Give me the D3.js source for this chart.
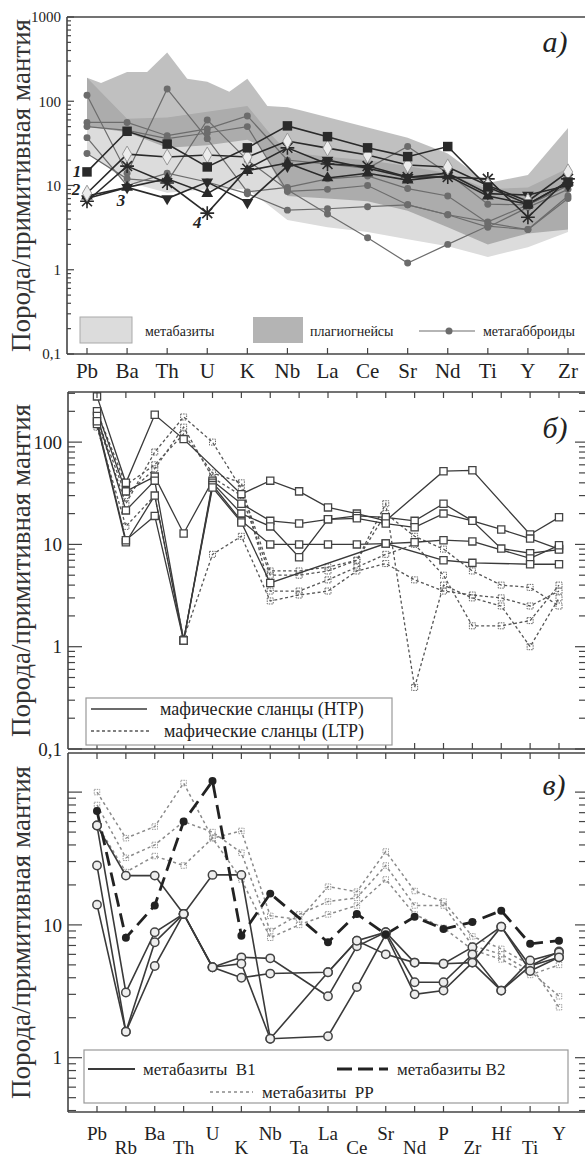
<!DOCTYPE html>
<html>
<head>
<meta charset="utf-8">
<script src="https://cdn.jsdelivr.net/npm/d3@7"></script>
<style>
  body { margin: 0; background: #fff; }
  svg { display: block; }
</style>
</head>
<body>
<script>
// ---------- panel a data ----------
const elemA = ["Pb","Ba","Th","U","K","Nb","La","Ce","Sr","Nd","Ti","Y","Zr"];
const ticksA = [0.1, 1, 10, 100, 1000];

// fields: [element index, value]
const plagUpper = [[0,190],[0.35,165],[1,222],[1.5,222],[2,380],[2.5,185],[3,170],[3.55,130],[4,185],[4.5,88],[5,85],[5.3,79],[8,37],[9,24],[10,10.7],[11,13.3],[12,48]];
const plagLower = [[12,3.0],[11,2.7],[10,2.0],[9,3.2],[8,5],[7,6.5],[6,7],[5,7.5],[4.3,30],[4,35],[3,30],[2,28],[1,43],[0,50]];
const metaUpper = [[0,190],[1,62],[2,64],[3,75],[4,88],[4.5,45],[5,25],[6,22],[7,20],[8,17],[9,14],[10,9],[11,9.5],[12,16]];
const metaLower = [[12,2.8],[11,1.85],[10,1.42],[9,1.9],[8,2.3],[7,2.8],[6,3.2],[5,3.9],[4.5,6],[4,9],[3,9],[2,8.2],[1,11],[0,25]];

const gabbro1 = [118, 14, 140, 36, 8.4, 9.5, 12, 13, 9.2, 7.5, 3.6, 3.0, 7.5];
const gabbro2 = [56, 56, 39, 47, 67, 20, 18, 16, 29, 14, 6, 5.9, 10];
const gabbro3 = [50, 45, 36, 42, 50, 8.5, 9, 10, 5.9, 4.5, 3.2, 5.5, 9];
const gabbro4 = [24, 12, 11, 60, 20, 8.9, 4.6, 2.4, 1.2, 2.0, 3.3, 3.0, 7];
const gabbro5 = [37, 10, 14, 11, 8, 5.1, 5.3, 5.6, 5.9, 4.5, 3.7, 5.9, 10];

const sample1 = [14.5, 44, 31, 16.6, 28, 51, 38, 28, 22, 29, 9.6, 6, 11];       // squares
const sample2 = [8.1, 23.6, 21.8, 23, 21.8, 33.7, 27.8, 23, 17.5, 16.6, 10, 6.5, 14.5]; // diamonds
const sample3 = [7, 9.5, 7, 11, 6.3, 17, 20, 16, 12.5, 14, 8, 7.7, 10];          // triangles down
const sample4 = [6.5, 17, 10.7, 4.7, 15.8, 28, 18, 17, 12.6, 12.6, 12, 4.2, 12];  // stars
const sample5 = [7.5, 9.5, 12, 8, 15, 18.5, 12.3, 14, 11.6, 13, 7.5, 6, 11];     // triangles up

// ---------- panels b, c data ----------
const elemBC = ["Pb","Rb","Ba","Th","U","K","Nb","Ta","La","Ce","Sr","Nd","P","Zr","Hf","Ti","Y"];
const ticksB = [0.1, 1, 10, 100];
const ticksC = [1, 10];

const htp1 = [280, 40, 185, 107, null, 31, 42, 33, 23, 20, 17, null, 52, 53, null, 12.5, 18.4];
const htp2 = [200, 33, 46, 12.8, 42, 25, 17, 16, 17.6, 19, 18.4, 17, 25, 17, 14, 11.4, 9];
const htp3 = [180, 21.5, 42, 1.15, 40, 20, 15, 7.5, 17.6, 18, 16, 14.7, 20, 17, 9.1, 8.2, 8.9];
const htp4 = [150, 10.5, 30, 1.15, 38, 17, 10, 10, 10, 10, 10.2, 10.5, 11, 10.7, null, 7.3, 9.8];
const htp5 = [160, 11, 19, 1.15, 36, 16.4, 4.2, null, null, null, 10.2, null, 7, 6.6, null, 6.4, 6.4];

const ltp1 = [160, 25, 80, 176, 100, 35, 5.5, 5.5, 6, 7, 25, 0.4, 4, 3, 2.5, 1.0, 3];
const ltp2 = [200, 38, 60, 120, 50, 40, 3.5, 3.5, 4.5, 6, 8, 10, 5, 1.6, 1.6, 1.8, 4];
const ltp3 = [140, 15, 30, 1.2, 8, 12, 2.8, 3.2, 3.5, 5.5, 6.5, 4.5, 3.5, 3.2, 3, 2.5, 3.5];
const ltp4 = [170, 30, 55, 140, 45, 30, 5, 5, 5.5, 7, 20, 12, 9, 5.5, 4, 3.8, 2.5];

const b1a = [56, 23.5, 23.5, 12.1, 4.8, 4.0, 4.3, null, 4.4, 7.6, 8.8, 5.2, 5.1, 6.8, 9.7, 4.9, 6.3];
const b1b = [28, 1.57, 7.4, 12.1, 23.8, 23.8, 1.39, null, 1.45, 3.4, 8.5, 3.0, 3.2, 5.2, 3.2, 4.9, 5.7];
const b1c = [14.2, 1.57, 4.9, 12.1, 4.8, 5.7, 5.6, null, 2.9, 6.9, 8.8, 3.7, 3.7, 6.0, 3.2, 5.4, 6.2];
const b1d = [56, 3.1, 8.8, 12.1, 4.8, 5.1, 1.39, null, 4.4, 7.6, 6.0, 5.2, 5.1, 5.2, 9.7, 4.5, 5.7];
const b2 = [72, 8.0, 14, 60, 121, 8.3, 17.2, null, 7.4, 12.1, 8.5, 11.5, 9.3, 10.5, 12.8, 7.2, 7.6];
const pp1 = [100, 45, 55, 117, 45, 51, 11.7, 11, 19.4, 17.8, 35.7, 18, 15, 8.2, 6.6, 5, 2.4];
const pp2 = [80, 32, 40, 60, 50, 35, 9, 12, 15, 16, 28, 14, 14, 7, 6, 4.5, 2.9];
const pp3 = [57, 25, 33, 28, 45, 22, 8, 10, 12, 14, 22, 12, 9.5, 6.5, 5.5, 4.2, 5];

const yTitle = "Порода/примитивная мантия";

// ---------- helpers ----------
const W = 585, H = 1160;
const FONT = "'Liberation Serif', 'DejaVu Serif', serif";
const svg = d3.select("body").append("svg").attr("width", W).attr("height", H)
  .attr("font-family", FONT).style("font-family", FONT);

const fmt = v => v < 1 ? String(v).replace(".", ",") : String(v);

function txt(x, y, s, size) {
  return svg.append("text").attr("x", x).attr("y", y)
    .attr("font-family", FONT).attr("font-size", size).attr("fill", "#222").text(s);
}

function logTicks(scale) {
  const [a, b] = scale.domain();
  const out = [];
  for (let e = Math.floor(Math.log10(a)); e <= Math.ceil(Math.log10(b)); e++) {
    for (let m = 1; m < 10; m++) {
      const v = m * Math.pow(10, e);
      if (v >= a * 0.999 && v <= b * 1.001) out.push({v: v, major: m === 1});
    }
  }
  return out;
}

const pts = arr => arr.map((v, i) => ({i: i, v: v})).filter(d => d.v !== null);

// star marker: plus + cross
const starSym = {
  draw(ctx, size) {
    const r = Math.sqrt(size) / 2, k = r * 0.72;
    ctx.moveTo(-r, 0); ctx.lineTo(r, 0);
    ctx.moveTo(0, -r); ctx.lineTo(0, r);
    ctx.moveTo(-k, -k); ctx.lineTo(k, k);
    ctx.moveTo(-k, k); ctx.lineTo(k, -k);
  }
};

function frame(o) {
  const g = svg.append("g").attr("stroke", "#444").attr("fill", "none");
  g.append("line").attr("x1", o.x0).attr("x2", o.x0).attr("y1", o.top).attr("y2", o.bottom).attr("stroke-width", 1.6);
  g.append("line").attr("x1", o.x0).attr("x2", W).attr("y1", o.top).attr("y2", o.top).attr("stroke-width", 1.6);
  g.append("line").attr("x1", o.x0).attr("x2", W).attr("y1", o.bottom).attr("y2", o.bottom).attr("stroke-width", 1.6);
  logTicks(o.y).forEach(t => {
    const yy = o.y(t.v);
    g.append("line").attr("x1", o.x0).attr("x2", o.x0 + (t.major ? o.maj : o.min))
      .attr("y1", yy).attr("y2", yy).attr("stroke-width", 1.2);
    if (o.right) {
      g.append("line").attr("x1", W).attr("x2", W - (t.major ? 10 : 6))
        .attr("y1", yy).attr("y2", yy).attr("stroke-width", 1.2);
    }
  });
  o.cats.forEach((c, i) => {
    const xx = o.x(i);
    g.append("line").attr("x1", xx).attr("x2", xx).attr("y1", o.bottom).attr("y2", o.bottom - 6).attr("stroke-width", 1.2);
    if (o.topTicks) g.append("line").attr("x1", xx).attr("x2", xx).attr("y1", o.top).attr("y2", o.top + 6).attr("stroke-width", 1.2);
  });
  o.labels.forEach(v => {
    txt(o.x0 - 6, o.y(v), fmt(v), o.fs).attr("dy", "0.35em").attr("text-anchor", "end");
  });
  svg.append("text").attr("transform", "translate(30," + ((o.top + o.bottom) / 2) + ") rotate(-90)")
    .attr("text-anchor", "middle").attr("font-family", FONT).attr("font-size", 27)
    .attr("fill", "#333").text(yTitle);
}

function series(x, y, arr, st) {
  const line = d3.line().x(d => x(d.i)).y(d => y(d.v));
  svg.append("path").attr("d", line(pts(arr))).attr("fill", "none")
    .attr("stroke", st.stroke).attr("stroke-width", st.width)
    .attr("stroke-dasharray", st.dash || null);
}

function markers(x, y, arr, st) {
  const sym = d3.symbol().type(st.type).size(st.size);
  svg.append("g").selectAll("path").data(pts(arr)).join("path")
    .attr("d", sym)
    .attr("transform", d => "translate(" + x(d.i) + "," + y(d.v) + ")" + (st.rot ? " rotate(" + st.rot + ")" : ""))
    .attr("fill", st.fill).attr("stroke", st.stroke || "none")
    .attr("stroke-width", st.sw || 1).attr("stroke-dasharray", st.dash || null);
}

// ---------- panel a ----------
const xA = d3.scaleLinear().domain([0, 12]).range([87, 568]);
const yA = d3.scaleLog().domain([0.1, 1000]).range([354, 17]);
const poly = d3.line().x(d => xA(d[0])).y(d => yA(d[1]));

svg.append("path").attr("d", poly(metaUpper.concat(metaLower)) + "Z").attr("fill", "#dcdcdc");
svg.append("path").attr("d", poly(plagUpper.concat(plagLower)) + "Z").attr("fill", "#6a6a6a").attr("fill-opacity", 0.42);

const gabbroStyle = {stroke: "#6c6c6c", width: 1.2};
[gabbro1, gabbro2, gabbro3, gabbro4, gabbro5].forEach(s => {
  series(xA, yA, s, gabbroStyle);
  markers(xA, yA, s, {type: d3.symbolCircle, size: 38, fill: "#6c6c6c"});
});

const dark = "#2a2a2a";
[sample1, sample2, sample3, sample4, sample5].forEach(s => series(xA, yA, s, {stroke: dark, width: 1.6}));
markers(xA, yA, sample5, {type: d3.symbolTriangle, size: 60, fill: dark});
markers(xA, yA, sample3, {type: d3.symbolTriangle, size: 60, fill: dark, rot: 180});
markers(xA, yA, sample4, {type: starSym, size: 190, fill: "none", stroke: dark, sw: 1.6});
markers(xA, yA, sample2, {type: d3.symbolDiamond, size: 75, fill: "#ececec", stroke: "#9a9a9a", sw: 1});
markers(xA, yA, sample1, {type: d3.symbolSquare, size: 90, fill: dark});

frame({x0: 67, top: 17, bottom: 354, x: xA, y: yA, cats: elemA, labels: ticksA, maj: 7, min: 4, fs: 15, right: false, topTicks: false});

elemA.forEach((c, i) => {
  txt(xA(i), 378, c, 21).attr("text-anchor", "middle");
});

// sample numbers
const tag = (t, x, y) => txt(x, y, t, 17).attr("text-anchor", "middle")
  .attr("font-weight", "bold").attr("font-style", "italic");
tag("1", xA(0) - 10, yA(sample1[0]) + 5);
tag("2", xA(0) - 11, yA(sample2[0]) + 2);
tag("3", xA(1) - 6, yA(sample3[1]) + 19);
tag("4", xA(3) - 10, yA(sample4[3]) + 15);

txt(555, 52, "а)", 30).attr("text-anchor", "middle").attr("font-style", "italic");

// legend a
svg.append("rect").attr("x", 80).attr("y", 317).attr("width", 52).attr("height", 26)
  .attr("fill", "#dcdcdc").attr("stroke", "#aaa");
txt(145, 336, "метабазиты", 14);
svg.append("rect").attr("x", 253).attr("y", 317).attr("width", 50).attr("height", 26)
  .attr("fill", "#6a6a6a").attr("fill-opacity", 0.5);
txt(310, 336, "плагиогнейсы", 14);
svg.append("line").attr("x1", 419).attr("x2", 475).attr("y1", 331).attr("y2", 331).attr("stroke", "#6c6c6c").attr("stroke-width", 1.2);
svg.append("circle").attr("cx", 449).attr("cy", 331).attr("r", 3.5).attr("fill", "#6c6c6c");
txt(483, 336, "метагабброиды", 14);

// ---------- panel b ----------
const xB = d3.scaleLinear().domain([0, 16]).range([97, 559]);
const yB = d3.scaleLog().domain([0.1, 309]).range([749, 392]);

const ltpLine = {stroke: "#555", width: 1.3, dash: "3,2.5"};
const ltpMark = {type: d3.symbolSquare, size: 36, fill: "none", stroke: "#666", sw: 1, dash: "1.5,1"};
[ltp1, ltp2, ltp3, ltp4].forEach(s => {
  series(xB, yB, s, ltpLine);
  markers(xB, yB, s, ltpMark);
});
const htpLine = {stroke: "#3a3a3a", width: 1.3};
const htpMark = {type: d3.symbolSquare, size: 52, fill: "#fff", stroke: "#444", sw: 1.3};
[htp1, htp2, htp3, htp4, htp5].forEach(s => series(xB, yB, s, htpLine));
[htp1, htp2, htp3, htp4, htp5].forEach(s => markers(xB, yB, s, htpMark));

frame({x0: 68, top: 392, bottom: 749, x: xB, y: yB, cats: elemBC, labels: ticksB, maj: 14, min: 7, fs: 19, right: true, topTicks: true});

txt(555, 438, "б)", 30).attr("text-anchor", "middle").attr("font-style", "italic");

svg.append("rect").attr("x", 86).attr("y", 698).attr("width", 306).attr("height", 47)
  .attr("fill", "#fff").attr("stroke", "#999").attr("stroke-width", 1.2);
svg.append("line").attr("x1", 91).attr("x2", 147).attr("y1", 709).attr("y2", 709).attr("stroke", "#3a3a3a").attr("stroke-width", 1.5);
txt(160, 715, "мафические сланцы (HTP)", 18);
svg.append("line").attr("x1", 91).attr("x2", 150).attr("y1", 731).attr("y2", 731).attr("stroke", "#555").attr("stroke-width", 1.3).attr("stroke-dasharray", "3,2.5");
txt(164, 737, "мафические сланцы (LTP)", 18);

// ---------- panel c ----------
const xC = d3.scaleLinear().domain([0, 16]).range([97, 559]);
const yC = d3.scaleLog().domain([0.39, 197]).range([1112, 753]);

const ppLine = {stroke: "#8a8a8a", width: 1.5, dash: "3,3"};
const ppMark = {type: d3.symbolSquare, size: 30, fill: "none", stroke: "#999", sw: 1, dash: "1.5,1"};
[pp1, pp2, pp3].forEach(s => {
  series(xC, yC, s, ppLine);
  markers(xC, yC, s, ppMark);
});
const b1Line = {stroke: "#3a3a3a", width: 1.6};
[b1a, b1b, b1c, b1d].forEach(s => series(xC, yC, s, b1Line));
series(xC, yC, b2, {stroke: "#222", width: 2.8, dash: "14,7"});
[b1a, b1b, b1c, b1d].forEach(s => markers(xC, yC, s, {type: d3.symbolCircle, size: 55, fill: "#eee", stroke: "#444", sw: 1.5}));
markers(xC, yC, b2, {type: d3.symbolCircle, size: 50, fill: "#222"});

frame({x0: 68, top: 753, bottom: 1112, x: xC, y: yC, cats: elemBC, labels: ticksC, maj: 14, min: 8, fs: 19, right: true, topTicks: true});

elemBC.forEach((c, i) => {
  txt(xC(i), i % 2 === 0 ? 1140 : 1154, c, 19).attr("text-anchor", "middle");
});

txt(554, 795, "в)", 30).attr("text-anchor", "middle").attr("font-style", "italic");

svg.append("rect").attr("x", 84).attr("y", 1050).attr("width", 484).attr("height", 53)
  .attr("fill", "#fff").attr("stroke", "#999").attr("stroke-width", 1.2);
svg.append("line").attr("x1", 88).attr("x2", 135).attr("y1", 1069).attr("y2", 1069).attr("stroke", "#3a3a3a").attr("stroke-width", 2);
txt(143, 1075, "метабазиты  B1", 17).attr("xml:space", "preserve").style("white-space", "pre");
svg.append("line").attr("x1", 337).attr("x2", 388).attr("y1", 1069).attr("y2", 1069).attr("stroke", "#222").attr("stroke-width", 2.8).attr("stroke-dasharray", "15,6");
txt(397, 1075, "метабазиты B2", 17);
svg.append("line").attr("x1", 210).attr("x2", 253).attr("y1", 1092).attr("y2", 1092).attr("stroke", "#8a8a8a").attr("stroke-width", 1.5).attr("stroke-dasharray", "3,3");
txt(262, 1098, "метабазиты  PP", 17).style("white-space", "pre");
</script>
</body>
</html>
